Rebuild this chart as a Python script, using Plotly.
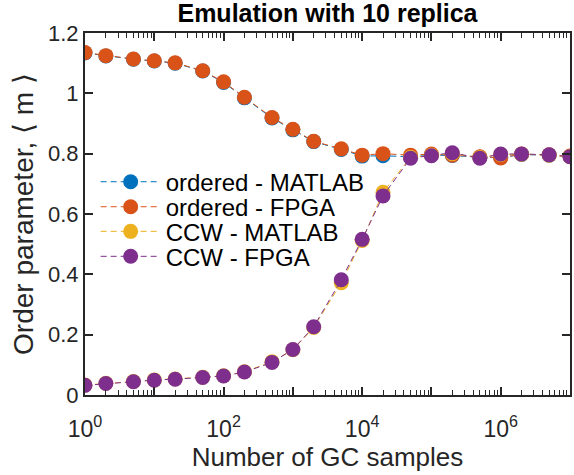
import plotly.graph_objects as go

samples = [1, 2, 5, 10, 20, 50, 100, 200, 500, 1e3, 2e3, 5e3, 1e4, 2e4, 5e4,
           1e5, 2e5, 5e5, 1e6, 2e6, 5e6, 1e7]

ordered_matlab = [1.134, 1.124, 1.113, 1.107, 1.100, 1.074, 1.036, 0.985, 0.918, 0.879,
                  0.840, 0.814, 0.792, 0.793, 0.790, 0.795, 0.794, 0.788, 0.787, 0.797,
                  0.795, 0.791]
ordered_matlab_err = [0.006] * 22
ordered_fpga = [1.135, 1.125, 1.114, 1.108, 1.101, 1.075, 1.038, 0.987, 0.920, 0.881,
                0.841, 0.816, 0.795, 0.800, 0.795, 0.799, 0.795, 0.790, 0.786, 0.799,
                0.796, 0.792]
ordered_fpga_err = [0.004] * 22
ccw_matlab = [0.033, 0.039, 0.045, 0.050, 0.053, 0.059, 0.064, 0.077, 0.110, 0.150,
              0.224, 0.372, 0.512, 0.672, 0.788, 0.795, 0.800, 0.787, 0.797, 0.798,
              0.795, 0.790]
ccw_matlab_err = [0.005, 0.005, 0.005, 0.005, 0.005, 0.005, 0.006, 0.007, 0.008, 0.009,
                  0.010, 0.012, 0.012, 0.014, 0.006, 0.005, 0.005, 0.005, 0.005, 0.005,
                  0.005, 0.005]
ccw_fpga = [0.032, 0.038, 0.044, 0.049, 0.052, 0.058, 0.063, 0.076, 0.108, 0.151,
            0.226, 0.382, 0.516, 0.660, 0.785, 0.793, 0.803, 0.785, 0.799, 0.799,
            0.796, 0.790]
ccw_fpga_err = [0.004] * 22

names = ["ordered - MATLAB", "ordered - FPGA", "CCW - MATLAB", "CCW - FPGA"]
values = [ordered_matlab, ordered_fpga, ccw_matlab, ccw_fpga]
errors = [ordered_matlab_err, ordered_fpga_err, ccw_matlab_err, ccw_fpga_err]
colors = ["#0072BD", "#D95319", "#EDB120", "#7E2F8E"]
legend_ids = ["legend", "legend2", "legend3", "legend4"]
legend_rows = [0.588, 0.519, 0.451, 0.382]

fig = go.Figure()
for name, vals, err, col, lid in zip(names, values, errors, colors, legend_ids):
    fig.add_trace(go.Scatter(
        x=samples, y=vals, name=name, mode="lines+markers", legend=lid,
        line=dict(color=col, width=1, dash="6px,4px"),
        marker=dict(color=col, size=15, line=dict(width=0)),
        error_y=dict(type="data", array=err, color=col, thickness=1, width=4),
    ))

font = "Liberation Sans, Arial, sans-serif"
axcol = "#262626"
decades = [1, 10, 100, 1e3, 1e4, 1e5, 1e6, 1e7]
decade_text = ["10<sup>0</sup>", "", "10<sup>2</sup>", "", "10<sup>4</sup>", "",
               "10<sup>6</sup>", ""]

legend_cfg = {}
for lid, yrow in zip(legend_ids, legend_rows):
    legend_cfg[lid] = dict(x=0.022, y=yrow, xanchor="left", yanchor="middle",
                           bgcolor="rgba(0,0,0,0)", font=dict(size=24, color="black"),
                           itemwidth=60)

ylabel = "Order parameter, \u27e8 m \u27e9" + "\u00a0" * 5

fig.update_layout(
    width=574, height=475,
    margin=dict(l=85, r=2, t=33, b=80),
    paper_bgcolor="white", plot_bgcolor="white",
    font=dict(family=font, color="#262626", size=20),
    title=dict(text="<b>Emulation with 10 replica</b>", x=0.5, xref="paper",
               xanchor="center", y=0.972, yanchor="middle",
               font=dict(size=25, color="black", family=font)),
    showlegend=True,
    xaxis=dict(
        type="log", range=[0, 7],
        tickvals=decades, ticktext=decade_text,
        ticks="inside", ticklen=8, tickwidth=1.5, tickcolor=axcol,
        showline=True, linecolor=axcol, linewidth=2, mirror="ticks",
        showgrid=False, zeroline=False, ticklabelstandoff=12,
        tickfont=dict(size=23, color="#262626"),
        minor=dict(ticks="inside", ticklen=5, tickwidth=1, tickcolor=axcol,
                   dtick="D1", showgrid=False),
        title=dict(text="Number of GC samples", font=dict(size=26, color="#262626"),
                   standoff=2),
    ),
    yaxis=dict(
        range=[0, 1.2], tickvals=[0, 0.2, 0.4, 0.6, 0.8, 1.0, 1.2],
        ticktext=["0", "0.2", "0.4", "0.6", "0.8", "1", "1.2"],
        ticks="inside", ticklen=8, tickwidth=1.5, tickcolor=axcol,
        showline=True, linecolor=axcol, linewidth=2, mirror="ticks",
        showgrid=False, zeroline=False,
        tickfont=dict(size=22, color="#262626"),
        title=dict(text=ylabel, font=dict(size=28, color="#262626"), standoff=6),
    ),
    **legend_cfg,
)

fig.write_html("out.html")
